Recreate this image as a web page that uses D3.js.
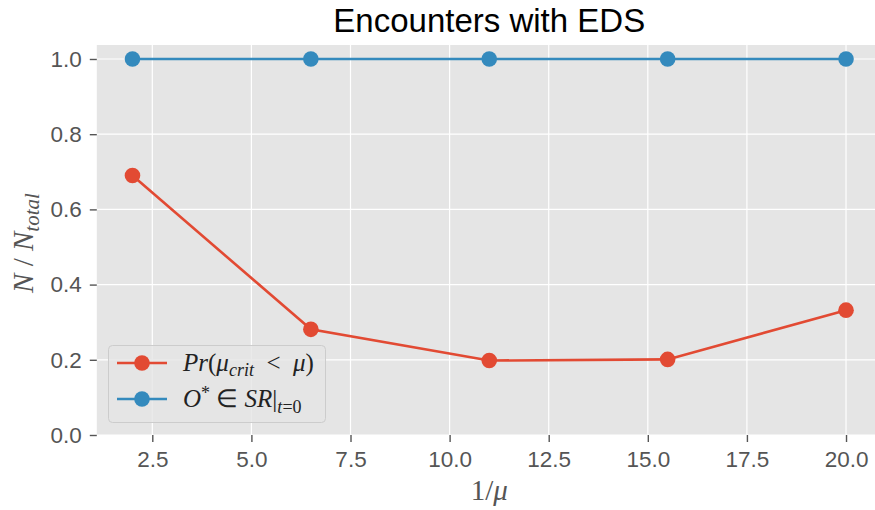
<!DOCTYPE html>
<html><head><meta charset="utf-8">
<script src="https://cdn.jsdelivr.net/npm/d3@7"></script>
<style>body{margin:0;background:#fff}svg{display:block}</style>
</head><body>
<svg id="c" width="875" height="510"></svg>
<script>
const xValues = [2, 6.5, 11, 15.5, 20];
const prCrit = [0.69, 0.281, 0.198, 0.201, 0.332];
const oInSR = [1.0, 1.0, 1.0, 1.0, 1.0];
const xTicks = [2.5, 5.0, 7.5, 10.0, 12.5, 15.0, 17.5, 20.0];
const yTicks = [0.0, 0.2, 0.4, 0.6, 0.8, 1.0];
const title = "Encounters with EDS";

const red = "#E24A33", blue = "#348ABD";
const svg = d3.select("#c");
const L = 96.8, R = 881.7, T = 45, B = 435;
const x = d3.scaleLinear().domain([1.1, 20.9]).range([L, R]);
const y = d3.scaleLinear().domain([0, 1.0372]).range([B, T]);

svg.append("rect").attr("x", L).attr("y", T).attr("width", R - L).attr("height", B - T).attr("fill", "#E5E5E5");

// grid
svg.append("g").selectAll("line").data(xTicks).join("line")
  .attr("x1", d => x(d)).attr("x2", d => x(d)).attr("y1", T).attr("y2", B)
  .attr("stroke", "#fff").attr("stroke-width", 1.2);
svg.append("g").selectAll("line").data(yTicks).join("line")
  .attr("x1", L).attr("x2", R).attr("y1", d => y(d)).attr("y2", d => y(d))
  .attr("stroke", "#fff").attr("stroke-width", 1.2);

// axes
const xa = svg.append("g").attr("transform", `translate(0,${B})`)
  .call(d3.axisBottom(x).tickValues(xTicks).tickFormat(d3.format(".1f")).tickSize(7).tickPadding(9));
const ya = svg.append("g").attr("transform", `translate(${L},0)`)
  .call(d3.axisLeft(y).tickValues(yTicks).tickFormat(d3.format(".1f")).tickSize(7).tickPadding(8));
[xa, ya].forEach(a => {
  a.select(".domain").remove();
  a.selectAll(".tick line").attr("stroke", "#555").attr("stroke-width", 1.4);
  a.selectAll(".tick text").attr("fill", "#555").style("font-family", "'Liberation Sans', Arial, sans-serif").style("font-size", "22.5px");
});

// lines
const line = d3.line().x(d => x(d[0])).y(d => y(d[1]));
const series = [{vals: oInSR, color: blue}, {vals: prCrit, color: red}];
series.forEach(s => {
  const pts = xValues.map((v, i) => [v, s.vals[i]]);
  svg.append("path").datum(pts).attr("d", line).attr("fill", "none")
    .attr("stroke", s.color).attr("stroke-width", 2.6);
  svg.append("g").selectAll("circle").data(pts).join("circle")
    .attr("cx", d => x(d[0])).attr("cy", d => y(d[1])).attr("r", 7.8).attr("fill", s.color);
});

// title
svg.append("text").attr("x", (L + R) / 2).attr("y", 32).attr("text-anchor", "middle")
  .style("font-family", "'Liberation Sans', Arial, sans-serif").style("font-size", "33px").attr("fill", "#000")
  .text(title);

const mathFont = "'Liberation Serif', 'Times New Roman', serif";
// x label
svg.append("text").attr("x", (L + R) / 2).attr("y", 500).attr("text-anchor", "middle")
  .style("font-family", mathFont).style("font-size", "29px").attr("fill", "#555")
  .html('1/<tspan font-style="italic">μ</tspan>');

// y label
const yl = svg.append("text").attr("transform", `translate(33,${(T + B) / 2 + 3}) rotate(-90)`)
  .attr("text-anchor", "middle").style("font-family", mathFont).style("font-size", "29px").attr("fill", "#555");
yl.append("tspan").attr("font-style", "italic").text("N");
yl.append("tspan").text(" / ");
yl.append("tspan").attr("font-style", "italic").text("N");
yl.append("tspan").attr("font-style", "italic").attr("font-size", "21px").attr("dy", 6).text("total");

// legend
const lg = svg.append("g");
lg.append("rect").attr("x", 108.5).attr("y", 345.5).attr("width", 217).attr("height", 77).attr("rx", 4)
  .attr("fill", "#E5E5E5").attr("fill-opacity", 0.8).attr("stroke", "#CCCCCC").attr("stroke-width", 1);
const rows = [
  {color: red, y: 363},
  {color: blue, y: 399}
];
rows.forEach(r => {
  lg.append("line").attr("x1", 117).attr("x2", 167).attr("y1", r.y).attr("y2", r.y)
    .attr("stroke", r.color).attr("stroke-width", 2.6);
  lg.append("circle").attr("cx", 142).attr("cy", r.y).attr("r", 7.8).attr("fill", r.color);
});
const t1 = lg.append("text").attr("x", 183).attr("y", 371).style("font-family", mathFont).style("font-size", "25px").attr("fill", "#222");
t1.append("tspan").attr("font-style", "italic").text("Pr");
t1.append("tspan").text("(");
t1.append("tspan").attr("font-style", "italic").text("μ");
t1.append("tspan").attr("font-style", "italic").attr("font-size", "18px").attr("dy", 5).text("crit");
t1.append("tspan").attr("dy", -5).text("\u2002<\u2002");
t1.append("tspan").attr("font-style", "italic").text("μ");
t1.append("tspan").text(")");
const t2 = lg.append("text").attr("x", 183).attr("y", 407).style("font-family", mathFont).style("font-size", "25px").attr("fill", "#222");
t2.append("tspan").attr("font-style", "italic").text("O");
t2.append("tspan").attr("font-size", "18px").attr("dy", -8).text("*");
t2.append("tspan").attr("dy", 8).text(" ∈ ");
t2.append("tspan").attr("font-style", "italic").text("SR");
t2.append("tspan").text("|");
t2.append("tspan").attr("font-style", "italic").attr("font-size", "18px").attr("dy", 6).text("t");
t2.append("tspan").attr("font-size", "18px").text("=0");
</script>
</body></html>
